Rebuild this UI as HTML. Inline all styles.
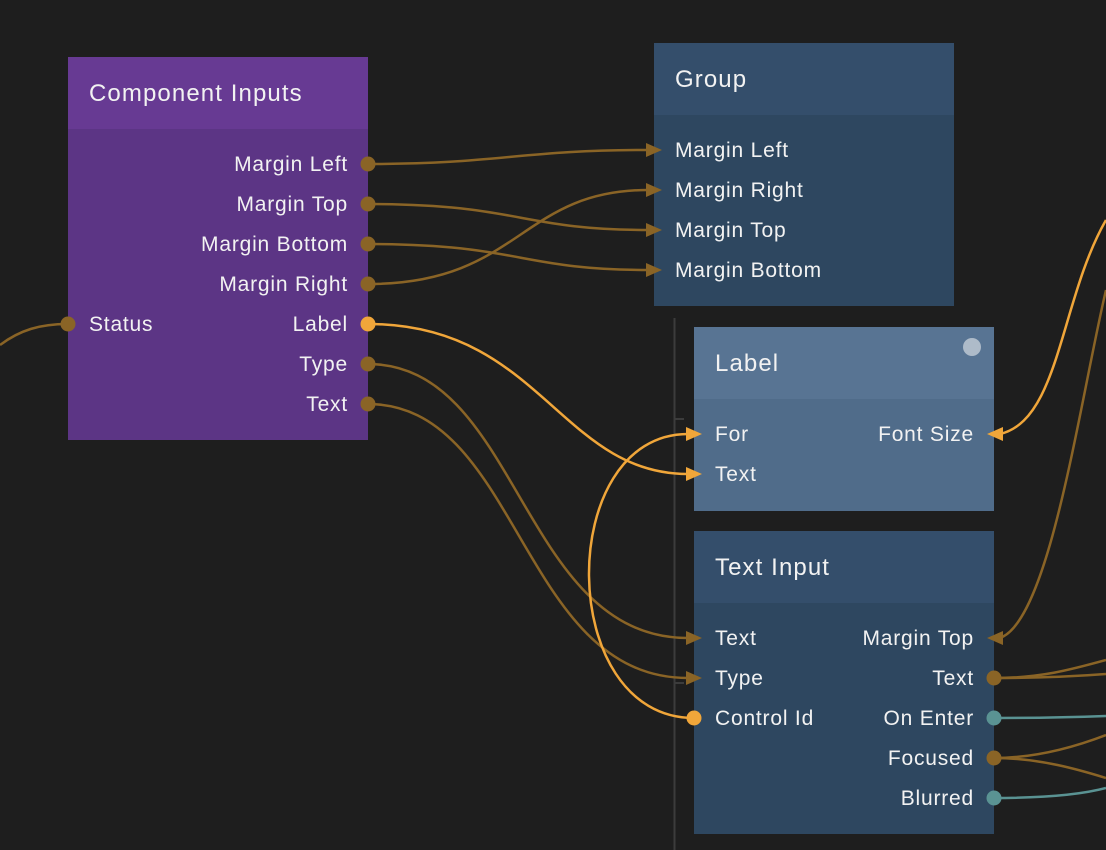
<!DOCTYPE html>
<html><head><meta charset="utf-8"><style>
html,body{margin:0;padding:0;background:#1e1e1e;width:1106px;height:850px;overflow:hidden}
svg{display:block}
text{font-family:"Liberation Sans","DejaVu Sans",sans-serif;font-size:21px;letter-spacing:0.8px;fill:#f2f2f2}
text.t{font-size:24px;letter-spacing:1.1px}
</style></head><body>
<svg width="1106" height="850" viewBox="0 0 1106 850" xmlns="http://www.w3.org/2000/svg">
<rect width="1106" height="850" fill="#1e1e1e"/>
<line x1="674.5" y1="318" x2="674.5" y2="850" stroke="#3c3c3c" stroke-width="2"/>
<line x1="674" y1="419" x2="684" y2="419" stroke="#3c3c3c" stroke-width="2"/>
<line x1="674" y1="683" x2="684" y2="683" stroke="#3c3c3c" stroke-width="2"/>

<!-- Component Inputs -->
<rect x="68" y="57" width="300" height="383" fill="#5c3585"/>
<rect x="68" y="57" width="300" height="72" fill="#673a93"/>
<text class="t" x="89" y="101">Component Inputs</text>
<g text-anchor="end">
<text x="348" y="171">Margin Left</text>
<text x="348" y="211">Margin Top</text>
<text x="348" y="251">Margin Bottom</text>
<text x="348" y="291">Margin Right</text>
<text x="348" y="331">Label</text>
<text x="348" y="371">Type</text>
<text x="348" y="411">Text</text>
</g>
<text x="89" y="331">Status</text>

<!-- Group -->
<rect x="654" y="43" width="300" height="263" fill="#2e4760"/>
<rect x="654" y="43" width="300" height="72" fill="#344e6b"/>
<text class="t" x="675" y="87">Group</text>
<text x="675" y="157">Margin Left</text>
<text x="675" y="197">Margin Right</text>
<text x="675" y="237">Margin Top</text>
<text x="675" y="277">Margin Bottom</text>

<!-- Label -->
<rect x="694" y="327" width="300" height="184" fill="#506c8a"/>
<rect x="694" y="327" width="300" height="72" fill="#587493"/>
<circle cx="972" cy="347" r="9" fill="#aebbc9"/>
<text class="t" x="715" y="371">Label</text>
<text x="715" y="441">For</text>
<text x="715" y="481">Text</text>
<text x="974" y="441" text-anchor="end">Font Size</text>

<!-- Text Input -->
<rect x="694" y="531" width="300" height="303" fill="#2e4760"/>
<rect x="694" y="531" width="300" height="72" fill="#344e6b"/>
<text class="t" x="715" y="575">Text Input</text>
<text x="715" y="645">Text</text>
<text x="715" y="685">Type</text>
<text x="715" y="725">Control Id</text>
<g text-anchor="end">
<text x="974" y="645">Margin Top</text>
<text x="974" y="685">Text</text>
<text x="974" y="725">On Enter</text>
<text x="974" y="765">Focused</text>
<text x="974" y="805">Blurred</text>
</g>

<!-- wires -->
<g fill="none" stroke-width="2.5">
<path d="M0 345 C20 330 40 324 68 324" stroke="#8a6426"/>
<path d="M368 164 C500 164 520 150 648 150" stroke="#8a6426"/>
<path d="M368 204 C520 204 520 230 648 230" stroke="#8a6426"/>
<path d="M368 244 C520 244 520 270 648 270" stroke="#8a6426"/>
<path d="M368 284 C520 284 520 190 648 190" stroke="#8a6426"/>
<path d="M368 364 C520 364 520 638 688 638" stroke="#8a6426"/>
<path d="M368 404 C520 404 520 678 688 678" stroke="#8a6426"/>
<path d="M368 324 C540 324 560 474 688 474" stroke="#f0a63a"/>
<path d="M694 718 C555 718 555 434 688 434" stroke="#f0a63a"/>
<path d="M1000 434 C1060 420 1060 300 1106 220" stroke="#f0a63a"/>
<path d="M1000 638 C1050 620 1080 400 1106 290" stroke="#8a6426"/>
<path d="M994 678 C1040 678 1070 670 1106 660" stroke="#8a6426"/>
<path d="M994 678 C1040 678 1080 676 1106 674" stroke="#8a6426"/>
<path d="M994 758 C1040 758 1080 745 1106 735" stroke="#8a6426"/>
<path d="M994 758 C1040 758 1080 770 1106 778" stroke="#8a6426"/>
<path d="M994 718 C1040 718 1080 717 1106 716" stroke="#5a9393"/>
<path d="M994 798 C1040 798 1080 795 1106 788" stroke="#5a9393"/>
</g>
<!-- arrowheads -->
<g fill="#8a6426">
<polygon points="646,143 662,150 646,157"/>
<polygon points="646,183 662,190 646,197"/>
<polygon points="646,223 662,230 646,237"/>
<polygon points="646,263 662,270 646,277"/>
<polygon points="686,631 702,638 686,645"/>
<polygon points="686,671 702,678 686,685"/>
<polygon points="1003,631 987,638 1003,645"/>
</g>
<g fill="#f0a63a">
<polygon points="686,427 702,434 686,441"/>
<polygon points="686,467 702,474 686,481"/>
<polygon points="1003,427 987,434 1003,441"/>
</g>
<!-- dots -->
<g fill="#8a6426">
<circle cx="68" cy="324" r="7.5"/>
<circle cx="368" cy="164" r="7.5"/>
<circle cx="368" cy="204" r="7.5"/>
<circle cx="368" cy="244" r="7.5"/>
<circle cx="368" cy="284" r="7.5"/>
<circle cx="368" cy="364" r="7.5"/>
<circle cx="368" cy="404" r="7.5"/>
<circle cx="994" cy="678" r="7.5"/>
<circle cx="994" cy="758" r="7.5"/>
</g>
<circle cx="368" cy="324" r="7.5" fill="#f0a63a"/>
<circle cx="694" cy="718" r="7.5" fill="#f0a63a"/>
<circle cx="994" cy="718" r="7.5" fill="#5a9393"/>
<circle cx="994" cy="798" r="7.5" fill="#5a9393"/>
</svg>
</body></html>
